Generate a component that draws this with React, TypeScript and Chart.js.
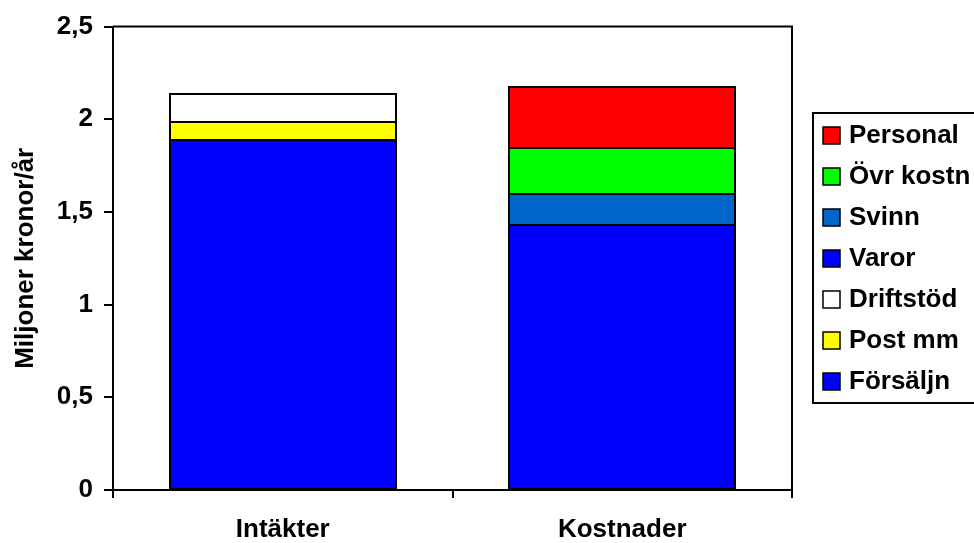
import React, { useEffect, useRef } from "react";
import { Chart, registerables } from "chart.js";

Chart.register(...registerables);

const categories = ["Intäkter", "Kostnader"];
const seriesNames = ["Försäljn", "Post mm", "Driftstöd", "Varor", "Svinn", "Övr kostn", "Personal"];
const forsaljn = [1.887, null];
const postMm = [0.097, null];
const driftstod = [0.15, null];
const varor = [null, 1.43];
const svinn = [null, 0.167];
const ovrKostn = [null, 0.247];
const personal = [null, 0.328];
const seriesColors = ["#0000FF", "#FFFF00", "#FFFFFF", "#0000FF", "#0066CC", "#00FF00", "#FF0000"];
const yTickValues = [0, 0.5, 1, 1.5, 2, 2.5];
const yTickLabels = ["0", "0,5", "1", "1,5", "2", "2,5"];
const yTitle = "Miljoner kronor/år";

const FONT = "'Liberation Sans', Arial, sans-serif";
const FS = 26;

const frameAndLegend = {
  id: "frameAndLegend",
  afterDatasetsDraw(chart: any) {
    const ctx = chart.ctx;
    ctx.save();
    ctx.strokeStyle = "#000";
    ctx.lineWidth = 2;
    chart.data.datasets.forEach((_d: any, i: number) => {
      const meta = chart.getDatasetMeta(i);
      meta.data.forEach((el: any, j: number) => {
        const raw = chart.data.datasets[i].data[j];
        if (raw == null) return;
        const p = el.getProps(["x", "y", "base", "width"], true);
        const l = Math.round(p.x - p.width / 2);
        const r = Math.round(p.x + p.width / 2);
        const t = Math.round(p.y);
        const b = Math.round(p.base);
        ctx.strokeRect(l, t, r - l, b - t);
      });
    });
    ctx.restore();
  },
  afterDraw(chart: any) {
    const ctx = chart.ctx;
    const a = chart.chartArea;
    ctx.save();
    ctx.strokeStyle = "#000";
    ctx.lineWidth = 2;
    ctx.beginPath();
    ctx.moveTo(a.left, a.top);
    ctx.lineTo(a.right, a.top);
    ctx.lineTo(a.right, a.bottom);
    ctx.stroke();

    // legend
    const lx = 813, ly = 113, lh = 290;
    ctx.fillStyle = "#fff";
    ctx.fillRect(lx, ly, 200, lh);
    ctx.strokeRect(lx, ly, 200, lh);
    const items = chart.data.datasets.map((d: any) => ({ label: d.label, color: d.backgroundColor })).reverse();
    ctx.font = `bold ${FS}px ${FONT}`;
    ctx.textBaseline = "middle";
    ctx.textAlign = "left";
    items.forEach((it: any, i: number) => {
      const cy = 135 + i * 41;
      ctx.fillStyle = it.color;
      ctx.fillRect(823, cy - 8, 17, 17);
      ctx.lineWidth = 1.5;
      ctx.strokeStyle = "#000";
      ctx.strokeRect(823, cy - 8, 17, 17);
      ctx.fillStyle = "#000";
      ctx.fillText(it.label, 849, cy + 1);
    });
    ctx.restore();
  },
};

export default function App() {
  const ref = useRef<HTMLCanvasElement>(null);
  useEffect(() => {
    const values = [forsaljn, postMm, driftstod, varor, svinn, ovrKostn, personal];
    const chart = new Chart(ref.current!, {
      type: "bar",
      data: {
        labels: categories,
        datasets: values.map((v, i) => ({
          label: seriesNames[i],
          data: v,
          backgroundColor: seriesColors[i],
          borderWidth: 0,
          categoryPercentage: 1,
          barPercentage: 0.666,
        })),
      },
      options: {
        animation: false,
        responsive: false,
        devicePixelRatio: 1,
        layout: { padding: { top: 25, right: 182, left: 0, bottom: 0 } },
        plugins: { legend: { display: false }, tooltip: { enabled: false } },
        scales: {
          x: {
            stacked: true,
            offset: true,
            grid: { offset: true, drawOnChartArea: false, color: "#000", lineWidth: 2, tickLength: 8 },
            border: { color: "#000", width: 2 },
            ticks: { color: "#000", font: { family: FONT, size: FS, weight: "bold" }, padding: 16 },
            afterFit: (s: any) => { s.height = 53; },
          },
          y: {
            stacked: true,
            min: 0,
            max: 2.5,
            afterBuildTicks: (s: any) => { s.ticks = yTickValues.map((v) => ({ value: v })); },
            grid: { drawOnChartArea: false, color: "#000", lineWidth: 2, tickLength: 9 },
            border: { color: "#000", width: 2 },
            ticks: {
              color: "#000",
              font: { family: FONT, size: FS, weight: "bold" },
              padding: 11,
              callback: (v: any) => yTickLabels[yTickValues.indexOf(Number(v))] ?? "",
            },
            title: {
              display: true,
              text: yTitle,
              color: "#000",
              font: { family: FONT, size: FS, weight: "bold" },
              padding: { top: 10, bottom: 0 },
            },
            afterFit: (s: any) => { s.width = 113; },
          },
        },
      },
      plugins: [frameAndLegend],
    });
    return () => chart.destroy();
  }, []);
  return (
    <div style={{ position: "absolute", left: 0, top: 0, width: 974, height: 543, overflow: "hidden" }}>
      <canvas ref={ref} width={974} height={543} />
    </div>
  );
}
